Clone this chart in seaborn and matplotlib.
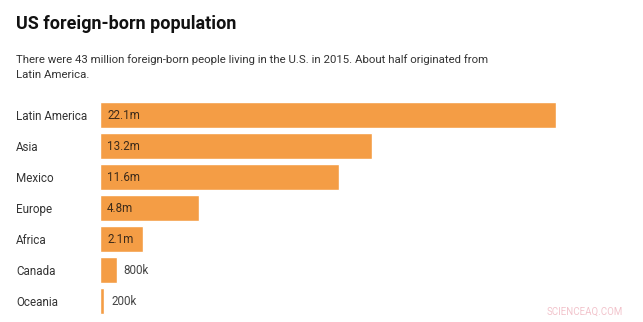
import matplotlib
matplotlib.use("Agg")
import matplotlib.pyplot as plt
import seaborn as sns
import pandas as pd

regions = ["Latin America", "Asia", "Mexico", "Europe", "Africa", "Canada", "Oceania"]
values = [22.1, 13.2, 11.6, 4.8, 2.1, 0.8, 0.2]
labels = ["22.1m", "13.2m", "11.6m", "4.8m", "2.1m", "800k", "200k"]

df = pd.DataFrame({"region": regions, "value": values})

sns.set_theme(style="white")
plt.rcParams["font.family"] = ["Roboto", "DejaVu Sans"]

W, H = 643, 322
fig = plt.figure(figsize=(W / 100, H / 100), dpi=100)
ax = fig.add_axes([100 / W, 1 - 316.5 / H, 456 / W, 217 / H])

sns.barplot(data=df, x="value", y="region", orient="h", color="#F49D45",
            saturation=1, width=0.87, ax=ax)
ax.set_xlim(0, 22.1)
ax.set_ylim(6.5, -0.5)
ax.set_xlabel("")
ax.set_ylabel("")
ax.set_xticks([])
ax.set_yticks(range(len(regions)))
ax.set_yticklabels(regions, fontsize=8.4, color="#333333")
ax.tick_params(axis="y", length=0, pad=84 * 72 / 100)
for lbl in ax.get_yticklabels():
    lbl.set_horizontalalignment("left")
for s in ax.spines.values():
    s.set_visible(False)

px = 22.1 / 456
for i, (v, t) in enumerate(zip(values, labels)):
    if v >= 2:
        ax.text(7 * px, i, t, va="center", ha="left", fontsize=8.4, color="#3d2b1a")
    else:
        ax.text(v + 7 * px, i, t, va="center", ha="left", fontsize=8.4, color="#444444")

fig.text(16 / W, 1 - 24 / H, "US foreign-born population", fontsize=13, fontweight="bold",
         color="#111111", va="center", ha="left")
fig.text(16 / W, 1 - 60 / H, "There were 43 million foreign-born people living in the U.S. in 2015. About half originated from",
         fontsize=8.2, color="#333333", va="center", ha="left")
fig.text(16 / W, 1 - 75 / H, "Latin America.", fontsize=8.2, color="#333333", va="center", ha="left")
fig.text(585 / W, 1 - 312 / H, "SCIENCEAQ.COM", fontsize=7, color="#f2c4cc", va="center", ha="center")

fig.savefig("out.png", dpi=100, facecolor="white")
